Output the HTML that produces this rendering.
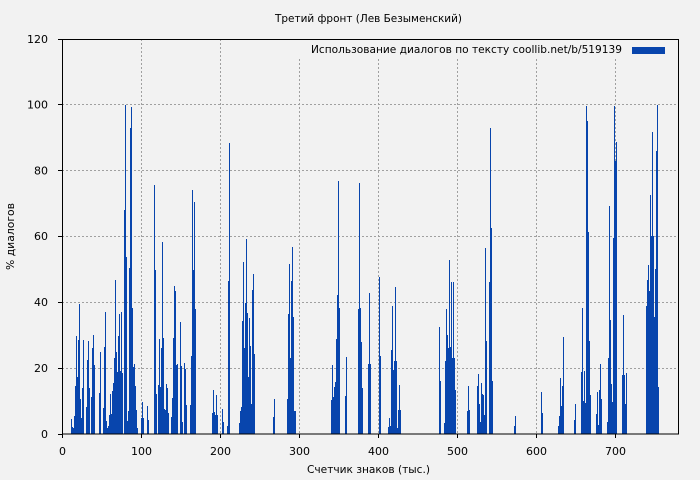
<!DOCTYPE html>
<html><head><meta charset="utf-8"><style>
html,body{margin:0;padding:0;background:#f2f2f2;}
svg{display:block;}
text{font-family:"DejaVu Sans","Liberation Sans",sans-serif;font-size:11px;fill:#000;}
</style></head><body>
<svg width="700" height="480" viewBox="0 0 700 480" xmlns="http://www.w3.org/2000/svg">
<rect x="0" y="0" width="700" height="480" fill="#f2f2f2"/>
<!-- grid -->
<g stroke="#a0a0a0" stroke-width="1" stroke-dasharray="2,2" shape-rendering="crispEdges">
<path d="M62 368.5H678M62 302.5H678M62 236.5H678M62 170.5H678M62 104.5H678"/>
<path d="M141.5 39V434M220.5 39V434M299.5 39V434M378.5 39V434M457.5 39V434M536.5 39V434M615.5 39V434"/>
</g>
<!-- legend box background -->
<rect x="290" y="40" width="388" height="17" fill="#f2f2f2"/>
<!-- bars -->
<path fill="none" stroke="#0845ad" stroke-width="1" shape-rendering="crispEdges" d="M71.5 434V419M72.5 434V427M73.5 434V428M74.5 434V416M75.5 434V386M76.5 434V336M77.5 434V377M78.5 434V340M79.5 434V304M80.5 434V399M81.5 434V418M82.5 434V388M83.5 434V340M86.5 434V407M87.5 434V360M88.5 434V341M89.5 434V388M91.5 434V397M92.5 434V348M93.5 434V335M94.5 434V365M99.5 434V393M100.5 434V352M103.5 434V408M104.5 434V347M105.5 434V312M106.5 434V421M107.5 434V428M108.5 434V426M109.5 434V415M110.5 434V394M111.5 434V414M112.5 434V391M113.5 434V383M114.5 434V358M115.5 434V280M116.5 434V352M117.5 434V372M118.5 434V336M119.5 434V314M120.5 434V371M121.5 434V312M122.5 434V373M124.5 434V210M125.5 434V105M126.5 434V257M127.5 434V421M128.5 434V411M129.5 434V268M130.5 434V128M131.5 434V107M132.5 434V308M133.5 434V367M134.5 434V364M135.5 434V386M136.5 434V410M137.5 434V428M141.5 434V418M142.5 434V402M143.5 434V418M147.5 434V406M148.5 434V420M154.5 434V185M155.5 434V270M156.5 434V394M158.5 434V385M159.5 434V339M160.5 434V387M161.5 434V348M162.5 434V242M163.5 434V338M164.5 434V409M165.5 434V410M166.5 434V384M167.5 434V388M168.5 434V413M171.5 434V417M172.5 434V398M173.5 434V338M174.5 434V286M175.5 434V291M176.5 434V365M177.5 434V364M180.5 434V322M181.5 434V366M182.5 434V422M184.5 434V363M185.5 434V369M186.5 434V405M190.5 434V405M191.5 434V356M192.5 434V190M193.5 434V270M194.5 434V202M195.5 434V309M212.5 434V413M213.5 434V390M214.5 434V412M215.5 434V415M216.5 434V395M217.5 434V415M222.5 434V409M223.5 434V422M227.5 434V426M228.5 434V281M229.5 434V143M239.5 434V423M240.5 434V411M241.5 434V407M242.5 434V321M243.5 434V262M244.5 434V348M245.5 434V303M246.5 434V239M247.5 434V313M248.5 434V377M249.5 434V318M250.5 434V346M251.5 434V404M252.5 434V290M253.5 434V274M254.5 434V354M273.5 434V417M274.5 434V399M287.5 434V399M288.5 434V314M289.5 434V264M290.5 434V358M291.5 434V281M292.5 434V247M293.5 434V317M294.5 434V411M295.5 434V411M331.5 434V400M332.5 434V365M333.5 434V397M334.5 434V387M335.5 434V382M336.5 434V339M337.5 434V295M338.5 434V181M339.5 434V308M345.5 434V396M346.5 434V357M358.5 434V309M359.5 434V183M360.5 434V308M361.5 434V342M362.5 434V388M368.5 434V364M369.5 434V293M370.5 434V364M379.5 434V277M380.5 434V356M388.5 434V427M389.5 434V418M390.5 434V426M391.5 434V350M392.5 434V306M393.5 434V370M394.5 434V361M395.5 434V287M396.5 434V361M397.5 434V428M398.5 434V410M399.5 434V385M400.5 434V410M439.5 434V327M440.5 434V381M444.5 434V423M445.5 434V361M446.5 434V309M447.5 434V335M448.5 434V348M449.5 434V260M450.5 434V347M451.5 434V282M452.5 434V358M453.5 434V282M454.5 434V358M455.5 434V390M467.5 434V411M468.5 434V386M469.5 434V410M477.5 434V386M478.5 434V374M479.5 434V404M480.5 434V422M481.5 434V383M482.5 434V394M483.5 434V395M484.5 434V415M485.5 434V248M486.5 434V341M489.5 434V282M490.5 434V128M491.5 434V228M492.5 434V381M514.5 434V426M515.5 434V416M541.5 434V392M542.5 434V413M558.5 434V426M559.5 434V416M560.5 434V378M561.5 434V406M562.5 434V386M563.5 434V337M574.5 434V420M575.5 434V404M581.5 434V372M582.5 434V308M583.5 434V401M584.5 434V371M585.5 434V403M586.5 434V106M587.5 434V121M588.5 434V232M589.5 434V341M590.5 434V395M596.5 434V414M597.5 434V392M598.5 434V425M599.5 434V390M600.5 434V364M601.5 434V399M607.5 434V422M608.5 434V358M609.5 434V206M610.5 434V320M611.5 434V384M612.5 434V402M613.5 434V238M614.5 434V106M615.5 434V161M616.5 434V142M622.5 434V375M623.5 434V315M624.5 434V375M625.5 434V404M626.5 434V373M646.5 434V306M647.5 434V280M648.5 434V265M649.5 434V291M650.5 434V195M651.5 434V236M652.5 434V132M653.5 434V236M654.5 434V317M655.5 434V269M656.5 434V151M657.5 434V105M658.5 434V387"/>
<!-- frame -->
<g stroke="#000" stroke-width="1" fill="none" shape-rendering="crispEdges">
<rect x="62.5" y="39.5" width="616" height="394.5"/>
<path d="M58 434.5H62M58 368.5H62M58 302.5H62M58 236.5H62M58 170.5H62M58 104.5H62M58 39.5H62"/>
<path d="M62.5 434V438M141.5 434V438M220.5 434V438M299.5 434V438M378.5 434V438M457.5 434V438M536.5 434V438M615.5 434V438"/>
</g>
<!-- legend -->
<text x="311" y="53" textLength="311" lengthAdjust="spacingAndGlyphs">Использование диалогов по тексту  coollib.net/b/519139</text>
<rect x="632" y="47" width="33" height="7" fill="#0845ad"/>
<!-- title -->
<text x="275" y="22" textLength="187" lengthAdjust="spacingAndGlyphs">Третий фронт (Лев Безыменский)</text>
<!-- y tick labels -->
<g text-anchor="end">
<text x="48" y="438">0</text>
<text x="48" y="372">20</text>
<text x="48" y="306">40</text>
<text x="48" y="240">60</text>
<text x="48" y="174.5">80</text>
<text x="48" y="108.5">100</text>
<text x="48" y="43">120</text>
</g>
<!-- x tick labels -->
<g text-anchor="middle">
<text x="62.5" y="455">0</text>
<text x="141.5" y="455">100</text>
<text x="220.5" y="455">200</text>
<text x="299.5" y="455">300</text>
<text x="378.5" y="455">400</text>
<text x="457.5" y="455">500</text>
<text x="536.5" y="455">600</text>
<text x="615.5" y="455">700</text>
</g>
<!-- axis titles -->
<text x="307" y="473" textLength="123" lengthAdjust="spacingAndGlyphs">Счетчик знаков (тыс.)</text>
<text transform="translate(14,270) rotate(-90)" x="0" y="0" textLength="67" lengthAdjust="spacingAndGlyphs">% диалогов</text>
</svg>
</body></html>
